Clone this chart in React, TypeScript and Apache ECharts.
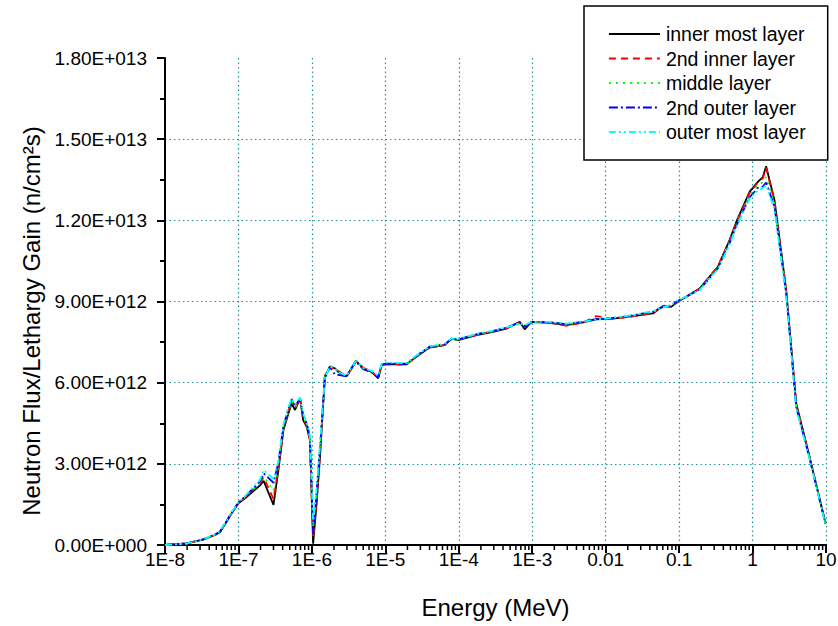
import React, { useEffect, useRef } from "react";
import * as echarts from "echarts";

// Energy grid (MeV)
const energy = [
  1e-8, 1.97e-8, 3.3e-8, 4.8e-8, 5.6e-8, 6.9e-8, 8.1e-8, 1.0e-7, 1.22e-7, 1.96e-7,
  2.2e-7, 3.0e-7, 3.5e-7, 4.1e-7, 4.8e-7, 5.3e-7, 5.9e-7, 6.9e-7, 7.6e-7, 8.5e-7,
  9.4e-7, 1.04e-6, 1.16e-6, 1.29e-6, 1.5e-6, 1.76e-6, 2.06e-6, 2.4e-6, 2.97e-6, 3.97e-6,
  5.0e-6, 6.5e-6, 8.0e-6, 8.9e-6, 9.8e-6, 1.94e-5, 2.65e-5, 4.0e-5, 6.45e-5, 7.96e-5,
  9.8e-5, 1.74e-4, 2.93e-4, 4.46e-4, 6.76e-4, 7.9e-4, 9.75e-4, 1.73e-3, 2.92e-3, 4.91e-3,
  7.47e-3, 1.26e-2, 2.35e-2, 4.4e-2, 6.0e-2, 7.8e-2, 9.6e-2, 0.19, 0.337, 0.486,
  0.6, 0.91, 1.18, 1.38, 1.53, 1.99, 2.87, 3.93, 5.97, 9.85,
];

// Flux values in units of 1E+012
const innerMost = [
  0.00, 0.06, 0.20, 0.37, 0.47, 0.86, 1.17, 1.54, 1.72, 2.20,
  2.37, 1.48, 2.77, 4.25, 4.87, 5.23, 4.99, 5.42, 4.62, 4.37,
  3.88, 0.05, 1.54, 3.26, 6.22, 6.59, 6.53, 6.34, 6.24, 6.81,
  6.53, 6.40, 6.16, 6.65, 6.68, 6.68, 6.96, 7.30, 7.39, 7.63,
  7.57, 7.76, 7.88, 8.00, 8.25, 7.97, 8.25, 8.21, 8.13, 8.23,
  8.34, 8.37, 8.46, 8.56, 8.83, 8.80, 8.99, 9.48, 10.28, 11.27,
  11.94, 13.05, 13.42, 13.60, 14.00, 12.74, 9.42, 5.23, 3.26, 0.80,
];
const secondInner = [
  0.00, 0.06, 0.21, 0.38, 0.50, 0.88, 1.20, 1.55, 1.75, 2.28,
  2.50, 1.70, 2.85, 4.30, 4.95, 5.40, 5.05, 5.45, 4.70, 4.40,
  3.90, 0.25, 1.70, 3.40, 6.25, 6.60, 6.50, 6.40, 6.22, 6.80,
  6.55, 6.42, 6.18, 6.66, 6.68, 6.67, 6.97, 7.31, 7.40, 7.62,
  7.58, 7.77, 7.90, 8.01, 8.22, 8.05, 8.24, 8.22, 8.10, 8.22,
  8.46, 8.36, 8.45, 8.58, 8.85, 8.82, 8.98, 9.47, 10.30, 11.25,
  11.90, 13.00, 13.40, 13.55, 13.95, 12.70, 9.40, 5.20, 3.25, 0.80,
];
const middle = [
  0.00, 0.05, 0.20, 0.37, 0.49, 0.87, 1.19, 1.56, 1.76, 2.30,
  2.55, 2.00, 2.95, 4.35, 4.95, 5.30, 5.10, 5.35, 4.75, 4.45,
  3.95, 0.50, 1.90, 3.55, 6.20, 6.62, 6.55, 6.38, 6.25, 6.82,
  6.52, 6.42, 6.20, 6.64, 6.70, 6.69, 6.98, 7.32, 7.41, 7.60,
  7.59, 7.78, 7.89, 8.02, 8.20, 8.10, 8.22, 8.23, 8.15, 8.24,
  8.36, 8.38, 8.47, 8.60, 8.82, 8.85, 9.00, 9.45, 10.25, 11.20,
  11.85, 12.90, 13.30, 13.40, 13.60, 12.60, 9.35, 5.15, 3.22, 0.78,
];
const secondOuter = [
  0.00, 0.06, 0.21, 0.38, 0.50, 0.89, 1.21, 1.57, 1.78, 2.35,
  2.65, 2.30, 3.05, 4.40, 5.05, 5.35, 5.15, 5.40, 4.80, 4.50,
  4.00, 0.40, 1.95, 3.60, 6.15, 6.58, 6.30, 6.28, 6.23, 6.78,
  6.50, 6.38, 6.20, 6.66, 6.70, 6.70, 6.99, 7.33, 7.42, 7.62,
  7.60, 7.79, 7.91, 8.03, 8.22, 8.08, 8.23, 8.24, 8.16, 8.25,
  8.35, 8.39, 8.49, 8.62, 8.80, 8.86, 9.02, 9.44, 10.22, 11.15,
  11.80, 12.85, 13.20, 13.25, 13.40, 12.50, 9.30, 5.10, 3.20, 0.78,
];
const outerMost = [
  0.00, 0.05, 0.22, 0.39, 0.51, 0.90, 1.22, 1.58, 1.80, 2.40,
  2.77, 2.45, 3.10, 4.45, 5.10, 5.40, 5.20, 5.45, 4.85, 4.55,
  4.05, 0.80, 2.10, 3.70, 6.18, 6.60, 6.50, 6.36, 6.26, 6.80,
  6.54, 6.44, 6.25, 6.70, 6.75, 6.72, 7.00, 7.34, 7.43, 7.64,
  7.62, 7.80, 7.92, 8.04, 8.20, 8.12, 8.24, 8.25, 8.18, 8.26,
  8.33, 8.40, 8.50, 8.64, 8.78, 8.88, 9.04, 9.42, 10.20, 11.10,
  11.75, 12.80, 13.10, 13.20, 13.30, 12.40, 9.20, 5.05, 3.18, 0.76,
];

const seriesNames = [
  "inner most layer",
  "2nd inner layer",
  "middle layer",
  "2nd outer layer",
  "outer most layer",
];
const xTickLabels = ["1E-8", "1E-7", "1E-6", "1E-5", "1E-4", "1E-3", "0.01", "0.1", "1", "10"];
const yTickLabels = ["0.00E+000", "3.00E+012", "6.00E+012", "9.00E+012", "1.20E+013", "1.50E+013", "1.80E+013"];
const decades = [1e-8, 1e-7, 1e-6, 1e-5, 1e-4, 1e-3, 1e-2, 1e-1, 1];
const minorMultipliers = [2, 3, 4, 5, 6, 7, 8, 9];

const FONT = '"Liberation Sans", Arial, sans-serif';

export default function App() {
  const ref = useRef<HTMLDivElement>(null);
  useEffect(() => {
    document.body.style.margin = "0";
    const chart = echarts.init(ref.current!, null, { renderer: "svg" });
    const valueSets = [innerMost, secondInner, middle, secondOuter, outerMost];
    const colors = ["#000000", "#FF0000", "#00FF00", "#0000FF", "#00FFFF"];
    const dashes: any[] = ["solid", [7, 5], [2, 5], [9, 3, 2, 3], [7, 3, 2, 3, 2, 3]];
    const minorTicks: number[][] = [];
    decades.forEach((d) => minorMultipliers.forEach((m) => minorTicks.push([d * m, 0])));

    const lineSeries = valueSets.map((vals, k) => ({
      name: seriesNames[k],
      type: "line",
      data: energy.map((e, i) => [e, vals[i]]),
      symbol: "none",
      showSymbol: false,
      color: colors[k],
      lineStyle: { color: colors[k], width: 1.8, type: dashes[k] },
      z: 3 + k,
    }));

    chart.setOption({
      animation: false,
      backgroundColor: "#fff",
      grid: { left: 165, right: 12, top: 58, bottom: 81, containLabel: false, outerBoundsMode: "none" },
      legend: {
        data: seriesNames,
        orient: "vertical",
        left: 584,
        top: 6,
        padding: [18, 22, 18, 24],
        itemWidth: 51,
        itemHeight: 14,
        itemGap: 4.5,
        borderColor: "#000",
        borderWidth: 1.5,
        backgroundColor: "#fff",
        itemStyle: { opacity: 0 },
        lineStyle: { width: 1.8 },
        textStyle: { fontFamily: FONT, fontSize: 19.5, color: "#000", padding: [0, 0, 0, 1] },
        z: 20,
      },
      xAxis: {
        type: "log",
        logBase: 10,
        min: 1e-8,
        max: 10,
        splitNumber: 9,
        name: "Energy (MeV)",
        nameLocation: "middle",
        nameGap: 50,
        nameTextStyle: { fontFamily: FONT, fontSize: 24, color: "#000" },
        axisLine: { lineStyle: { color: "#000", width: 2 } },
        axisTick: { show: true, length: 8, lineStyle: { color: "#000", width: 2 } },
        minorTick: { show: false },
        axisLabel: {
          fontFamily: FONT,
          fontSize: 19,
          color: "#000",
          margin: 5,
          formatter: (v: number) => xTickLabels[Math.round(Math.log10(v)) + 8] ?? "",
        },
        splitLine: {
          show: true,
          showMinLine: false,
          lineStyle: { color: "#229494", width: 1.2, type: [1.5, 3] },
        },
      },
      yAxis: {
        type: "value",
        min: 0,
        max: 18,
        interval: 3,
        axisLine: { show: true, lineStyle: { color: "#000", width: 2 } },
        axisTick: { show: true, length: 8, lineStyle: { color: "#000", width: 2 } },
        minorTick: { show: true, splitNumber: 2, length: 5, lineStyle: { color: "#000", width: 2 } },
        axisLabel: {
          fontFamily: FONT,
          fontSize: 19,
          color: "#000",
          margin: 18,
          formatter: (v: number) => yTickLabels[Math.round(v / 3)] ?? "",
        },
        splitLine: {
          show: true,
          showMinLine: false,
          showMaxLine: false,
          lineStyle: { color: "#229494", width: 1.2, type: [1.5, 3] },
        },
      },
      graphic: [
        {
          type: "text",
          x: 31,
          y: 321,
          rotation: Math.PI / 2,
          style: {
            text: "Neutron Flux/Lethargy Gain (n/cm²s)",
            fontFamily: FONT,
            fontSize: 24,
            fill: "#000",
            align: "center",
            verticalAlign: "middle",
          },
        },
      ],
      series: [
        ...lineSeries,
        {
          name: "minorTicks",
          type: "custom",
          coordinateSystem: "cartesian2d",
          data: minorTicks,
          clip: false,
          silent: true,
          z: 1,
          renderItem: (params: any, api: any) => {
            const p = api.coord([api.value(0), 0]);
            return {
              type: "line",
              shape: { x1: p[0], y1: p[1], x2: p[0], y2: p[1] + 5 },
              style: { stroke: "#000", lineWidth: 1.5 },
            };
          },
        },
      ],
    });
    return () => chart.dispose();
  }, []);
  return <div ref={ref} style={{ width: 838, height: 626 }} />;
}
